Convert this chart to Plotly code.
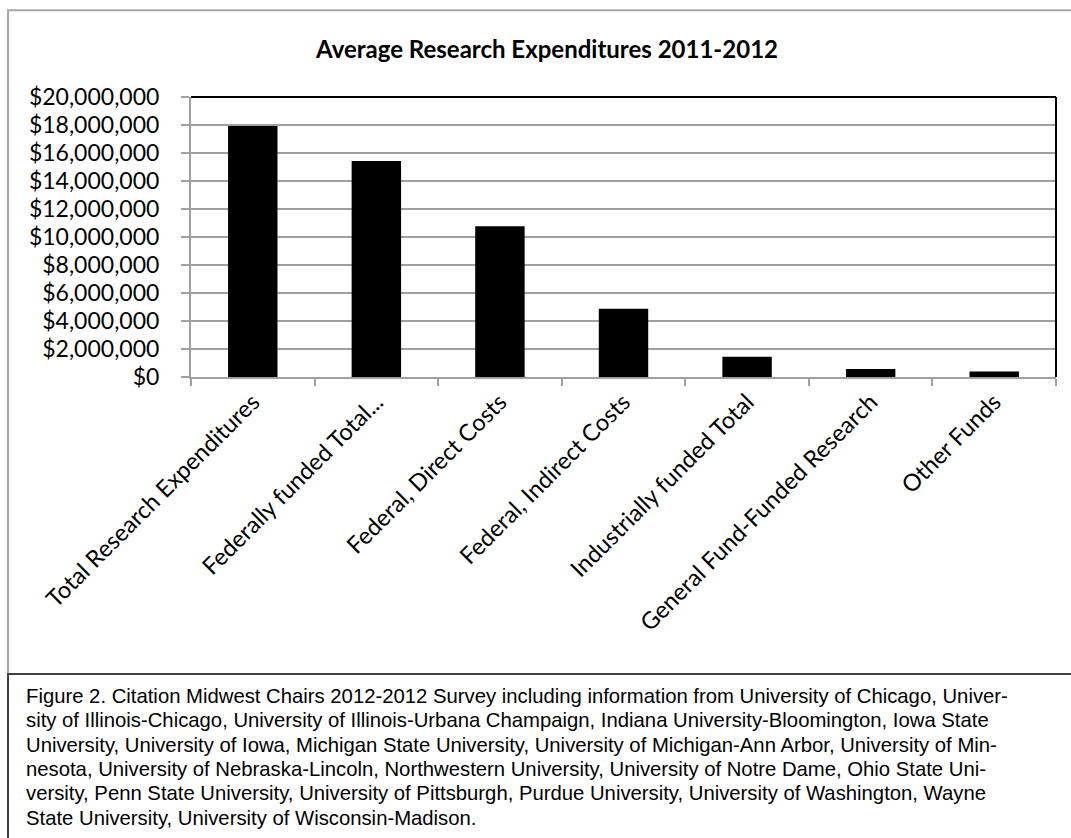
import plotly.graph_objects as go

categories = [
    "Total Research Expenditures",
    "Federally funded Total...",
    "Federal, Direct Costs",
    "Federal, Indirect Costs",
    "Industrially funded Total",
    "General Fund-Funded Research",
    "Other Funds",
]
values = [17920000, 15430000, 10760000, 4880000, 1440000, 580000, 390000]
y_ticks = list(range(0, 20000001, 2000000))
title_text = "Average Research Expenditures 2011-2012"
caption_lines = [
    "Figure 2. Citation Midwest Chairs 2012-2012 Survey including information from University of Chicago, Univer-",
    "sity of Illinois-Chicago, University of Illinois-Urbana Champaign, Indiana University-Bloomington, Iowa State",
    "University, University of Iowa, Michigan State University, University of Michigan-Ann Arbor, University of Min-",
    "nesota, University of Nebraska-Lincoln, Northwestern University, University of Notre Dame, Ohio State Uni-",
    "versity, Penn State University, University of Pittsburgh, Purdue University, University of Washington, Wayne",
    "State University, University of Wisconsin-Madison.",
]

FW, FH = 1071, 838
L, R, T, B = 191, 1056, 97, 377.5
PW, PH = R - L, B - T


def px(x):
    return (x - L) / PW


def py(y):
    return (B - y) / PH


fig = go.Figure(
    go.Bar(
        x=categories,
        y=values,
        marker=dict(color="black", line=dict(width=0)),
        hoverinfo="x+y",
    )
)

shapes = [
    # outer chart border
    dict(type="rect", xref="paper", yref="paper", x0=px(8), x1=px(1090), y0=py(675), y1=py(10),
         line=dict(color="#a6a6a6", width=2), fillcolor="rgba(0,0,0,0)", layer="below"),
    # caption box
    dict(type="rect", xref="paper", yref="paper", x0=px(8), x1=px(1090), y0=py(860), y1=py(675),
         line=dict(color="#404040", width=2), fillcolor="rgba(0,0,0,0)", layer="below"),
    # plot area top & right border
    dict(type="line", xref="paper", yref="paper", x0=0, x1=1, y0=1, y1=1,
         line=dict(color="black", width=2)),
    dict(type="line", xref="paper", yref="paper", x0=1, x1=1, y0=0, y1=1,
         line=dict(color="black", width=2)),
]

annotations = [
    dict(text="<b>" + title_text + "</b>", xref="paper", yref="paper", x=px(546), y=py(48),
         xanchor="center", yanchor="middle", showarrow=False,
         font=dict(family="Lato", size=24, color="black")),
]
for i, line in enumerate(caption_lines):
    annotations.append(
        dict(text=line, xref="paper", yref="paper", x=px(24), y=py(697 + i * 24.4),
             xanchor="left", yanchor="middle", showarrow=False,
             font=dict(family="Liberation Sans", size=20.3, color="black"))
    )

fig.update_layout(
    width=FW,
    height=FH,
    margin=dict(l=L, r=FW - R, t=T, b=FH - B, pad=0),
    paper_bgcolor="white",
    plot_bgcolor="white",
    bargap=0.6,
    showlegend=False,
    shapes=shapes,
    annotations=annotations,
    font=dict(family="Lato", color="black"),
)
fig.update_xaxes(
    type="category",
    tickangle=-45,
    tickson="boundaries",
    ticks="outside",
    ticklen=7,
    tickcolor="#a0a0a0",
    tickwidth=2,
    showline=True,
    linecolor="#a0a0a0",
    linewidth=2,
    tickfont=dict(family="Lato", size=23.5, color="black"),
    showgrid=False,
    automargin=False,
)
fig.update_yaxes(
    range=[0, 20000000],
    tickvals=y_ticks,
    tickformat="$,.0f",
    ticks="outside",
    ticklen=8,
    tickcolor="#a0a0a0",
    tickwidth=2,
    showline=True,
    linecolor="#a0a0a0",
    linewidth=2,
    showgrid=True,
    gridcolor="#a0a0a0",
    gridwidth=2,
    zeroline=False,
    tickfont=dict(family="Lato", size=23, color="black"),
    ticklabelstandoff=17,
    automargin=False,
)

fig.write_html("out.html")
